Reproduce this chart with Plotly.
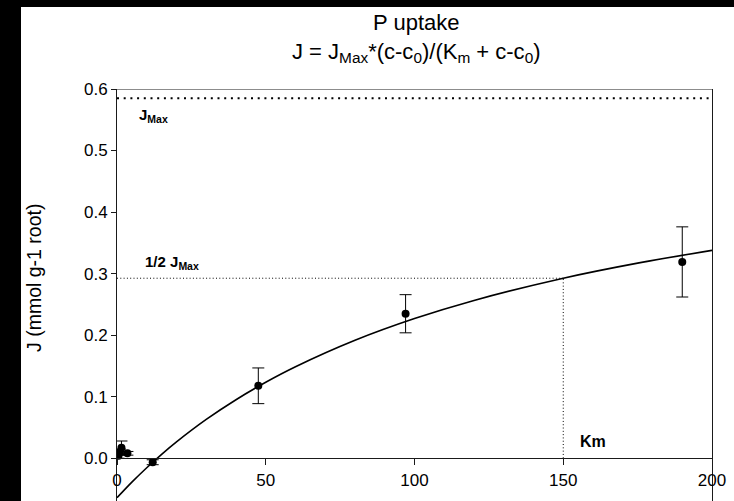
import plotly.graph_objects as go

# Measured data (concentration c, uptake J, error)
conc = [0.5, 1.0, 1.5, 3.5, 12.0, 47.5, 97.0, 190.0]
uptake = [0.004, 0.010, 0.017, 0.008, -0.0065, 0.1177, 0.2348, 0.319]
uptake_err = [0.004, 0.005, 0.011, 0.003, 0.004, 0.029, 0.031, 0.057]

# Fitted curve
fit_c = [0, 5, 10, 15, 20, 30, 40, 50, 60, 80, 100, 120, 150, 175, 200]
fit_J = [-0.0642, -0.0388, -0.0154, 0.0064, 0.0266, 0.0631, 0.0951, 0.1234,
         0.1486, 0.1916, 0.2269, 0.2564, 0.2925, 0.3170, 0.3378]

# Reference values
j_max = 0.585
half_j_max = 0.2925
km_c = 150

x_ticks = [0, 50, 100, 150, 200]
y_ticks = [0.0, 0.1, 0.2, 0.3, 0.4, 0.5, 0.6]

W, H = 734, 501
ML, MR, MT, MB = 117, 22, 89, 0
y_min, y_max = -0.0695, 0.6
pw = W - ML - MR
ph = H - MT - MB

def px2paperx(px):
    return (px - ML) / pw

def px2papery(py):
    return (H - MB - py) / ph

FONT = "Liberation Sans, Arial, sans-serif"
AX = "#1a1a1a"

fig = go.Figure()

# fitted curve
fig.add_trace(go.Scatter(x=fit_c, y=fit_J, mode="lines", line=dict(color="black", width=1.6, shape="spline"),
                         hoverinfo="skip", showlegend=False))
# Jmax line
fig.add_trace(go.Scatter(x=[0, 200], y=[j_max, j_max], mode="lines",
                         line=dict(color="black", width=2.2, dash="2px,4.7px"), showlegend=False))
# half Jmax line
fig.add_trace(go.Scatter(x=[0, km_c], y=[half_j_max, half_j_max], mode="lines",
                         line=dict(color="black", width=1, dash="1px,2.3px"), showlegend=False))
# Km vertical
fig.add_trace(go.Scatter(x=[km_c, km_c], y=[0, half_j_max], mode="lines",
                         line=dict(color="black", width=1, dash="1px,2.3px"), showlegend=False))
# data points
fig.add_trace(go.Scatter(x=conc, y=uptake, mode="markers",
                         marker=dict(color="black", size=8),
                         error_y=dict(type="data", array=uptake_err, color="black", thickness=1, width=6),
                         showlegend=False))

shapes = [
    # white page region (rest is black)
    dict(type="rect", xref="paper", yref="paper", x0=px2paperx(21), x1=px2paperx(740),
         y0=px2papery(510), y1=px2papery(7), fillcolor="white", line=dict(width=0), layer="below"),
    # top frame line
    dict(type="line", xref="paper", yref="y", x0=0, x1=1, y0=0.6, y1=0.6,
         line=dict(color=AX, width=1)),
]

annotations = [
    dict(text="P uptake<br>J = J<sub>Max</sub>*(c-c<sub>0</sub>)/(K<sub>m</sub> + c-c<sub>0</sub>)",
         xref="paper", yref="paper", x=px2paperx(416), y=px2papery(8), xanchor="center", yanchor="top",
         showarrow=False, font=dict(family=FONT, size=22, color="black")),
    dict(text="J (mmol g-1 root)", xref="paper", yref="paper", x=px2paperx(34), y=px2papery(278),
         xanchor="center", yanchor="middle", textangle=-90, showarrow=False,
         font=dict(family=FONT, size=19.5, color="black")),
    dict(text="<b>J<sub>Max</sub></b>", x=6.8, y=0.557, xanchor="left", yanchor="middle",
         showarrow=False, font=dict(family=FONT, size=15, color="black")),
    dict(text="<b>1/2 J<sub>Max</sub></b>", x=8.8, y=0.318, xanchor="left", yanchor="middle",
         showarrow=False, font=dict(family=FONT, size=15, color="black")),
    dict(text="<b>Km</b>", x=155, y=0.028, xanchor="left", yanchor="middle",
         showarrow=False, font=dict(family=FONT, size=16, color="black")),
]

fig.update_layout(
    width=W, height=H, autosize=False,
    margin=dict(l=ML, r=MR, t=MT, b=MB, pad=0),
    paper_bgcolor="black", plot_bgcolor="white",
    showlegend=False,
    shapes=shapes, annotations=annotations,
    xaxis=dict(range=[0, 200], tickvals=x_ticks, ticktext=[str(v) for v in x_ticks],
               showgrid=False, zeroline=False, showline=True, linecolor=AX, linewidth=1,
               ticks="outside", ticklen=6, tickcolor=AX, tickwidth=1,
               anchor="free", position=(0 - y_min) / (y_max - y_min),
               tickfont=dict(family=FONT, size=17, color="black")),
    yaxis=dict(range=[y_min, y_max], tickvals=y_ticks, ticktext=[f"{v:.1f}" for v in y_ticks],
               showgrid=False, zeroline=False, showline=True, linecolor=AX, linewidth=1, mirror=True,
               ticks="outside", ticklen=5, tickcolor=AX, tickwidth=1,
               tickfont=dict(family=FONT, size=17, color="black")),
)

fig.write_html("out.html")
